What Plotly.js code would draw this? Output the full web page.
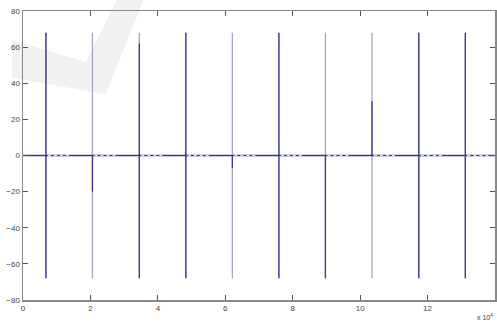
<!DOCTYPE html>
<html><head><meta charset="utf-8">
<script src="https://cdn.plot.ly/plotly-3.0.1.min.js"></script>
<style>html,body{margin:0;padding:0;background:#fff}#chart{width:497px;height:323px}</style>
</head><body><div id="chart"></div>
<script>
// spike positions (raw sample index)
const spikeX   = [6800, 20600, 34500, 48300, 62100, 75900, 89700, 103500, 117400, 131200];
const spikeHi  = [68, 68, 68, 68, 68, 68, 68, 68, 68, 68];
const spikeLo  = [-68, -68, -68, -68, -68, -68, -68, -68, -68, -68];
// darker (overlapping) portions of each spike
const darkHi   = [68, 0, 62, 68, 0, 68, 0, 30, 68, 68];
const darkLo   = [-68, -20, -68, -68, -7, -68, -68, 0, -68, -68];
const baseLine = [0, 0];
const baseX    = [0, 140000];
const ringLen  = 7000; // lighter ripple after each spike on the zero line
const xTickVals = [0, 20000, 40000, 60000, 80000, 100000, 120000, 140000];
const xTickText = ['0', '2', '4', '6', '8', '10', '12', '14'];
const yTickVals = [-80, -60, -40, -20, 0, 20, 40, 60, 80];

function segs(xs, lo, hi) {
  const x = [], y = [];
  xs.forEach((v, i) => { x.push(v, v, null); y.push(lo[i], hi[i], null); });
  return {x, y};
}
const light = segs(spikeX, spikeLo, spikeHi);
const dark = segs(spikeX, darkLo, darkHi);
const ringX = [], ringY = [];
spikeX.forEach(v => { ringX.push(v + 600, v + ringLen, null); ringY.push(0, 0, null); });

const traces = [
  {x: light.x, y: light.y, mode: 'lines', line: {color: '#a6a6c2', width: 1.3}, hoverinfo: 'skip'},
  {x: baseX, y: baseLine, mode: 'lines', line: {color: '#34348c', width: 1.4}, hoverinfo: 'skip'},
  {x: ringX, y: ringY, mode: 'lines', line: {color: '#dcdcf0', width: 1, dash: 'dot'}, hoverinfo: 'skip'},
  {x: dark.x, y: dark.y, mode: 'lines', line: {color: '#3a3a8e', width: 1.3}, hoverinfo: 'skip'}
];

const L = 23, R = 2, T = 11, B = 23, W = 497, H = 323;
const pw = W - L - R, ph = H - T - B;
const px = v => (v - L) / pw, py = v => (H - B - v) / ph;
const wm = [[12,40],[86,62],[118,-2],[144,-2],[106,94],[12,78]];
const path = 'M ' + wm.map(p => px(p[0]).toFixed(4) + ',' + py(p[1]).toFixed(4)).join(' L ') + ' Z';

const tickFont = {family: 'Liberation Sans Narrow, Arial Narrow, Liberation Sans, sans-serif', size: 8, color: '#444'};
const layout = {
  width: W, height: H,
  margin: {l: L, r: R, t: T, b: B},
  paper_bgcolor: '#fff', plot_bgcolor: 'rgba(0,0,0,0)',
  showlegend: false,
  xaxis: {range: [0, 140000], tickvals: xTickVals, ticktext: xTickText, ticks: 'inside', ticklen: 5,
          tickcolor: '#555', showline: true, linecolor: '#8a8a8a', linewidth: 1.5, mirror: 'ticks',
          showgrid: false, zeroline: false, tickfont: tickFont},
  yaxis: {range: [-80, 80], tickvals: yTickVals, ticks: 'inside', ticklen: 5,
          tickcolor: '#555', showline: true, linecolor: '#8a8a8a', linewidth: 1.5, mirror: 'ticks',
          showgrid: false, zeroline: false, tickfont: tickFont},
  shapes: [{type: 'path', xref: 'paper', yref: 'paper', path: path, fillcolor: '#f1f1f1', line: {width: 0}, layer: 'below'}],
  annotations: [{xref: 'paper', yref: 'paper', x: 1, y: 0, yshift: -11, xanchor: 'right', yanchor: 'top',
                 text: 'x 10<sup>4</sup>', showarrow: false, font: {family: tickFont.family, size: 7, color: '#444'}}]
};
Plotly.newPlot('chart', traces, layout, {displayModeBar: false, staticPlot: true});
</script></body></html>
